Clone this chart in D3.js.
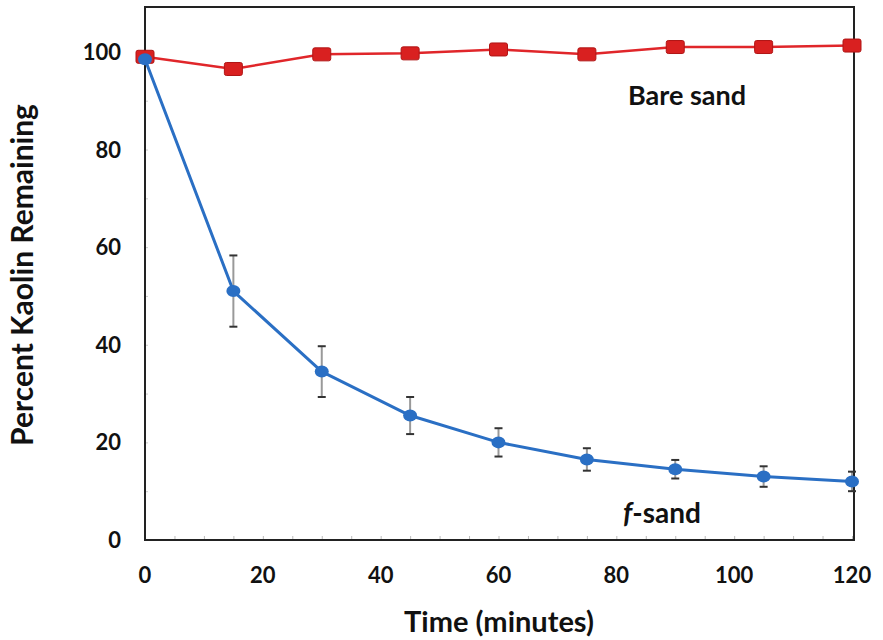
<!DOCTYPE html>
<html>
<head>
<meta charset="utf-8">
<script src="https://cdn.jsdelivr.net/npm/d3@7"></script>
<style>
  body { margin: 0; background: #fff; }
  text { font-family: Lato, "Open Sans", sans-serif; font-weight: bold; fill: #111; }
</style>
</head>
<body>
<div id="chart"></div>
<script>
// Time points (minutes)
var times = [0, 15, 30, 45, 60, 75, 90, 105, 120];
// Bare sand series
var bareSand = [99, 96.5, 99.5, 99.7, 100.5, 99.5, 101, 101, 101.3];
// f-sand series and its error bars
var fSand = [98.5, 51, 34.5, 25.5, 20, 16.5, 14.5, 13, 12];
var fSandErr = [0, 7.3, 5.2, 3.8, 2.9, 2.3, 1.9, 2.1, 2];

var xTicks = [0, 20, 40, 60, 80, 100, 120];
var yTicks = [0, 20, 40, 60, 80, 100];

var W = 883, H = 640;
var plotL = 145, plotR = 854, plotT = 7, plotB = 540;

var svg = d3.select("#chart").append("svg")
    .attr("width", W)
    .attr("height", H);

var x = d3.scaleLinear().domain([0, 120]).range([plotL, plotR - 2]);
var y = d3.scaleLinear().domain([0, 109.2]).range([plotB, plotT]);

// minor ticks, inward
svg.append("g")
    .attr("transform", "translate(0," + plotB + ")")
    .call(d3.axisTop(x).tickValues(d3.range(0, 121, 5)).tickSize(4).tickFormat(""))
    .call(g => g.select(".domain").remove())
    .selectAll("line").attr("stroke", "#bbb");

svg.append("g")
    .attr("transform", "translate(" + plotL + ",0)")
    .call(d3.axisRight(y).tickValues(d3.range(0, 110, 10)).tickSize(3).tickFormat(""))
    .call(g => g.select(".domain").remove())
    .selectAll("line").attr("stroke", "#ccc");

// frame
svg.append("rect")
    .attr("x", plotL)
    .attr("y", plotT)
    .attr("width", plotR - plotL)
    .attr("height", plotB - plotT)
    .attr("fill", "none")
    .attr("stroke", "#222")
    .attr("stroke-width", 2);

// tick labels
svg.selectAll(".xlab")
    .data(xTicks).enter()
    .append("text")
    .attr("x", d => x(d))
    .attr("y", 583)
    .attr("text-anchor", "middle")
    .style("font-size", "22px")
    .text(d => d);

svg.selectAll(".ylab")
    .data(yTicks).enter()
    .append("text")
    .attr("x", 121)
    .attr("y", d => y(d) + 8)
    .attr("text-anchor", "end")
    .style("font-size", "22px")
    .text(d => d);

// axis titles
svg.append("text")
    .attr("x", 499)
    .attr("y", 632)
    .attr("text-anchor", "middle")
    .style("font-size", "29px")
    .text("Time (minutes)");

svg.append("text")
    .attr("transform", "translate(33,275) rotate(-90)")
    .attr("text-anchor", "middle")
    .style("font-size", "30px")
    .text("Percent Kaolin Remaining");

// f-sand error bars
var errG = svg.append("g");
times.forEach(function (t, i) {
    if (!fSandErr[i]) return;
    var cx = x(t), y1 = y(fSand[i] + fSandErr[i]), y2 = y(fSand[i] - fSandErr[i]);
    errG.append("line").attr("x1", cx).attr("x2", cx).attr("y1", y1).attr("y2", y2)
        .attr("stroke", "#999").attr("stroke-width", 2);
    [y1, y2].forEach(function (yy) {
        errG.append("line").attr("x1", cx - 4).attr("x2", cx + 4).attr("y1", yy).attr("y2", yy)
            .attr("stroke", "#333").attr("stroke-width", 2);
    });
});

// lines
var lineBare = d3.line()
    .x((d, i) => x(times[i]))
    .y(d => y(d));

var lineF = d3.line()
    .x((d, i) => x(times[i]))
    .y(d => y(d));

svg.append("path")
    .datum(bareSand)
    .attr("d", lineBare)
    .attr("fill", "none")
    .attr("stroke", "#e0262a")
    .attr("stroke-width", 2.5);

svg.append("path")
    .datum(fSand)
    .attr("d", lineF)
    .attr("fill", "none")
    .attr("stroke", "#2a6fc4")
    .attr("stroke-width", 3)
    .attr("stroke-linejoin", "round");

// markers
svg.selectAll(".sq")
    .data(bareSand).enter()
    .append("rect")
    .attr("x", (d, i) => x(times[i]) - 9)
    .attr("y", d => y(d) - 6.5)
    .attr("width", 18)
    .attr("height", 13)
    .attr("rx", 2)
    .attr("fill", "#d92020")
    .attr("stroke", "#b01515")
    .attr("stroke-width", 1);

svg.selectAll(".dot")
    .data(fSand).enter()
    .append("ellipse")
    .attr("cx", (d, i) => x(times[i]))
    .attr("cy", d => y(d))
    .attr("rx", 7)
    .attr("ry", 6)
    .attr("fill", "#2a6fc4");

// series labels
svg.append("text")
    .attr("x", 687)
    .attr("y", 105)
    .attr("text-anchor", "middle")
    .style("font-size", "27px")
    .text("Bare sand");

var fl = svg.append("text")
    .attr("x", 662)
    .attr("y", 523)
    .attr("text-anchor", "middle")
    .style("font-size", "28px");
fl.append("tspan").style("font-style", "italic").text("f");
fl.append("tspan").text("-sand");
</script>
</body>
</html>
